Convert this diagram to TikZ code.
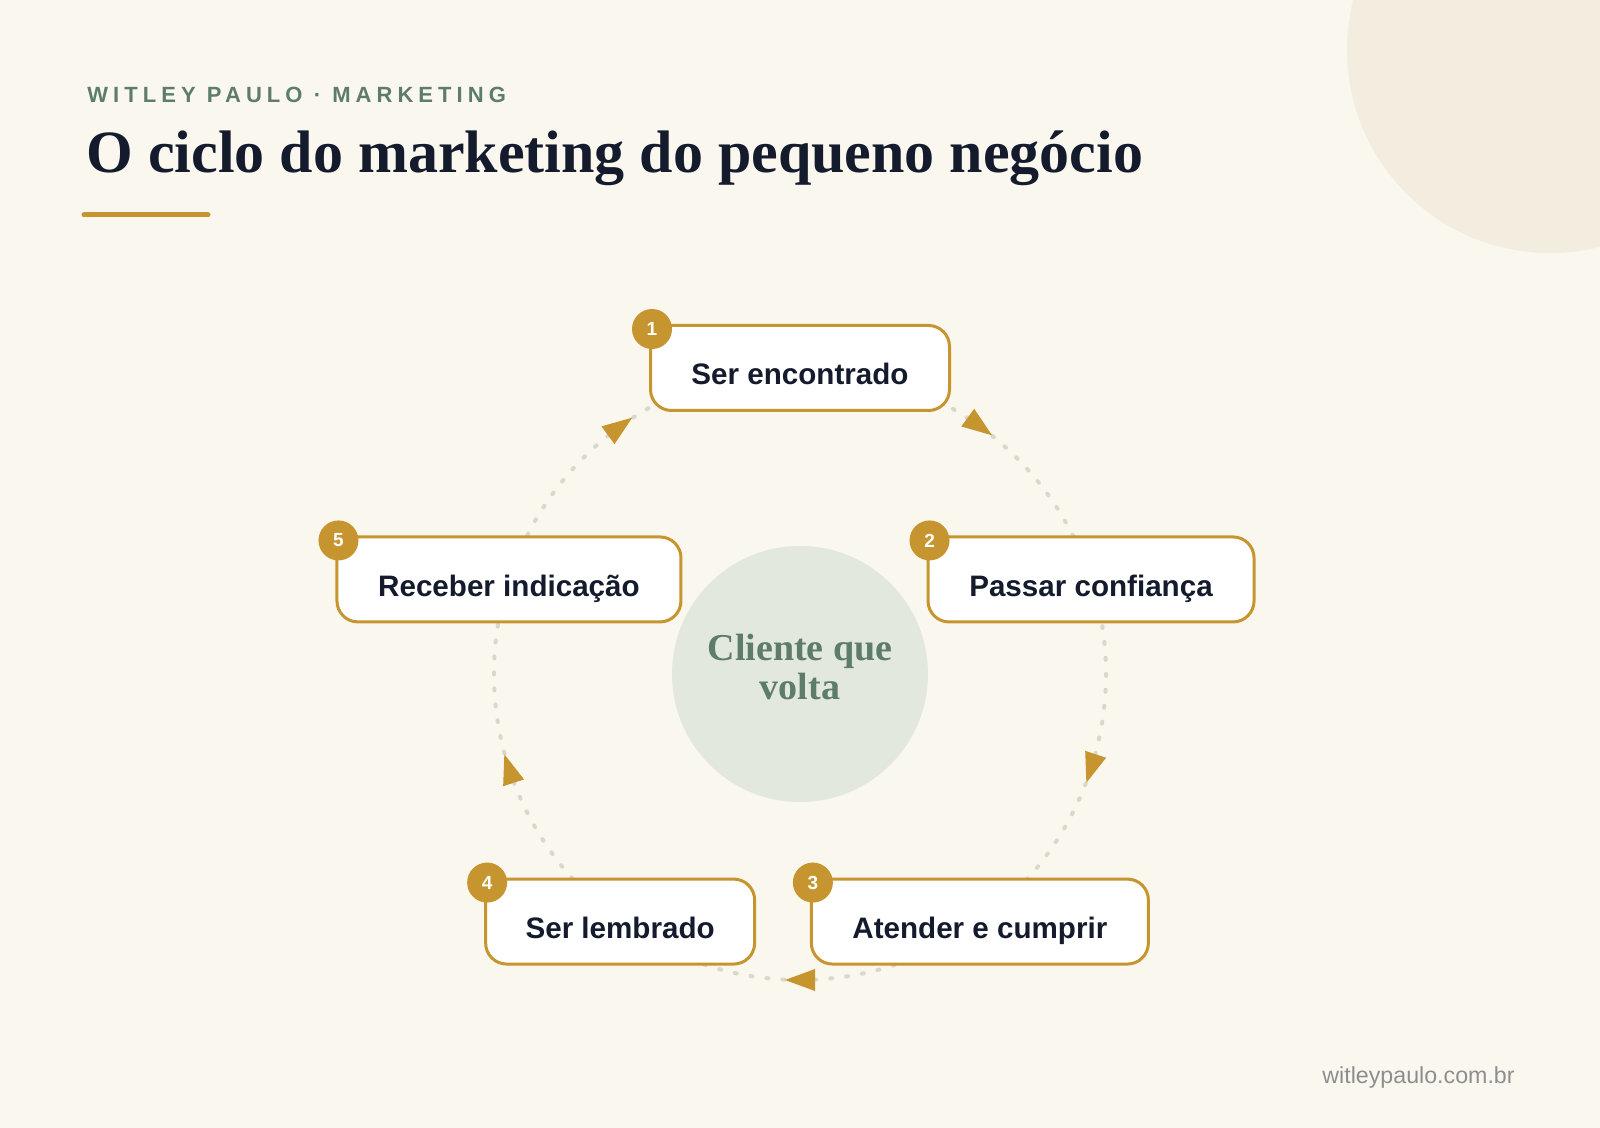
\documentclass[tikz,border=0pt]{standalone}
\usepackage{fontspec}
\setmainfont{Liberation Serif}
\newfontfamily\sansf{Liberation Sans}
\newfontfamily\kickf[LetterSpace=23]{Liberation Sans}
\usetikzlibrary{calc,decorations.markings}
\definecolor{bgc}{HTML}{FAF7EF}
\definecolor{decoc}{HTML}{F3EDDF}
\definecolor{gold}{HTML}{C7952F}
\definecolor{ink}{HTML}{141B2D}
\definecolor{greent}{HTML}{5E7D68}
\definecolor{sage}{HTML}{E2E8DC}
\definecolor{dotc}{HTML}{DAD7CB}
\definecolor{footc}{HTML}{8E8E8E}
\pgfdeclarelayer{bg}
\pgfsetlayers{bg,main}
\begin{document}
\begin{tikzpicture}[x=0.5pt,y=-0.5pt,
  stepbox/.style={draw=gold, line width=1.5pt, fill=white, rounded corners=10.5pt,
    minimum height=42.5pt, inner sep=0pt, text height=17pt, text depth=0pt,
    font=\sansf\bfseries\fontsize{14.8}{17}\selectfont, text=ink},
  badge/.style={circle, fill=gold, minimum size=20pt, inner sep=0pt, text=white,
    font=\sansf\bfseries\fontsize{9.5}{11}\selectfont},
  flow/.style={draw=dotc, line width=2pt, line cap=round, dash pattern=on 1pt off 7pt,
    postaction={decorate},
    decoration={markings, mark=at position 0.5 with
      {\fill[gold] (7.5pt,0pt) -- (-7.5pt,5.5pt) -- (-7.5pt,-5.5pt) -- cycle;}}},
]
\useasboundingbox (0,0) rectangle (1600,1128);

% header
\node[anchor=base west, inner sep=0pt, text=greent, font=\kickf\bfseries\fontsize{11}{13}\selectfont] (kicker) at (87,103) {WITLEY PAULO · MARKETING};
\node[anchor=base west, inner sep=0pt, text=ink, font=\bfseries\fontsize{30}{34}\selectfont] (title) at (86,173) {O ciclo do marketing do pequeno negócio};
\coordinate (ul1) at (84,215);
\coordinate (ul2) at (208,215);
\draw[gold, line width=2.5pt, line cap=round] (ul1) -- (ul2);

% hub
\coordinate (C) at (800,674);
\node[circle, fill=sage, minimum size=128pt, inner sep=0pt] (hub) at (C) {};
\node[align=center, inner sep=0pt, text=greent,
  font=\bfseries\fontsize{19}{19.5}\selectfont] (hubtext) at ($(C)+(0,-7)$) {Cliente que\\volta};

% steps
\node[stepbox, minimum width=149.5pt] (b1) at ($(C)+(270:306)$) {Ser encontrado};
\node[stepbox, minimum width=163pt]   (b2) at ($(C)+(342:306)$) {Passar confiança};
\node[stepbox, minimum width=168.5pt] (b3) at ($(C)+(54:306)$)  {Atender e cumprir};
\node[stepbox, minimum width=134.5pt] (b4) at ($(C)+(126:306)$) {Ser lembrado};
\node[stepbox, minimum width=172pt]   (b5) at ($(C)+(198:306)$) {Receber indicação};

\node[badge] (n1) at ($(b1.north west)+(3,5)$) {1};
\node[badge] (n2) at ($(b2.north west)+(3,5)$) {2};
\node[badge] (n3) at ($(b3.north west)+(3,5)$) {3};
\node[badge] (n4) at ($(b4.north west)+(3,5)$) {4};
\node[badge] (n5) at ($(b5.north west)+(3,5)$) {5};

% footer
\node[anchor=base east, inner sep=0pt, text=footc, font=\sansf\fontsize{11.6}{14}\selectfont] (foot) at (1515,1083) {witleypaulo.com.br};

\begin{pgfonlayer}{bg}
  \fill[bgc] (0,0) rectangle (1600,1128);
  \begin{scope}
    \clip (0,0) rectangle (1600,1128);
    \fill[decoc] (1550,50) circle[radius=203];
  \end{scope}
  \draw[flow] (b1.center) arc[start angle=270, end angle=342, radius=306];
  \draw[flow] (b2.center) arc[start angle=342, end angle=414, radius=306];
  \draw[flow] (b3.center) arc[start angle=54,  end angle=126, radius=306];
  \draw[flow] (b4.center) arc[start angle=126, end angle=198, radius=306];
  \draw[flow] (b5.center) arc[start angle=198, end angle=270, radius=306];
\end{pgfonlayer}
\end{tikzpicture}
\end{document}
